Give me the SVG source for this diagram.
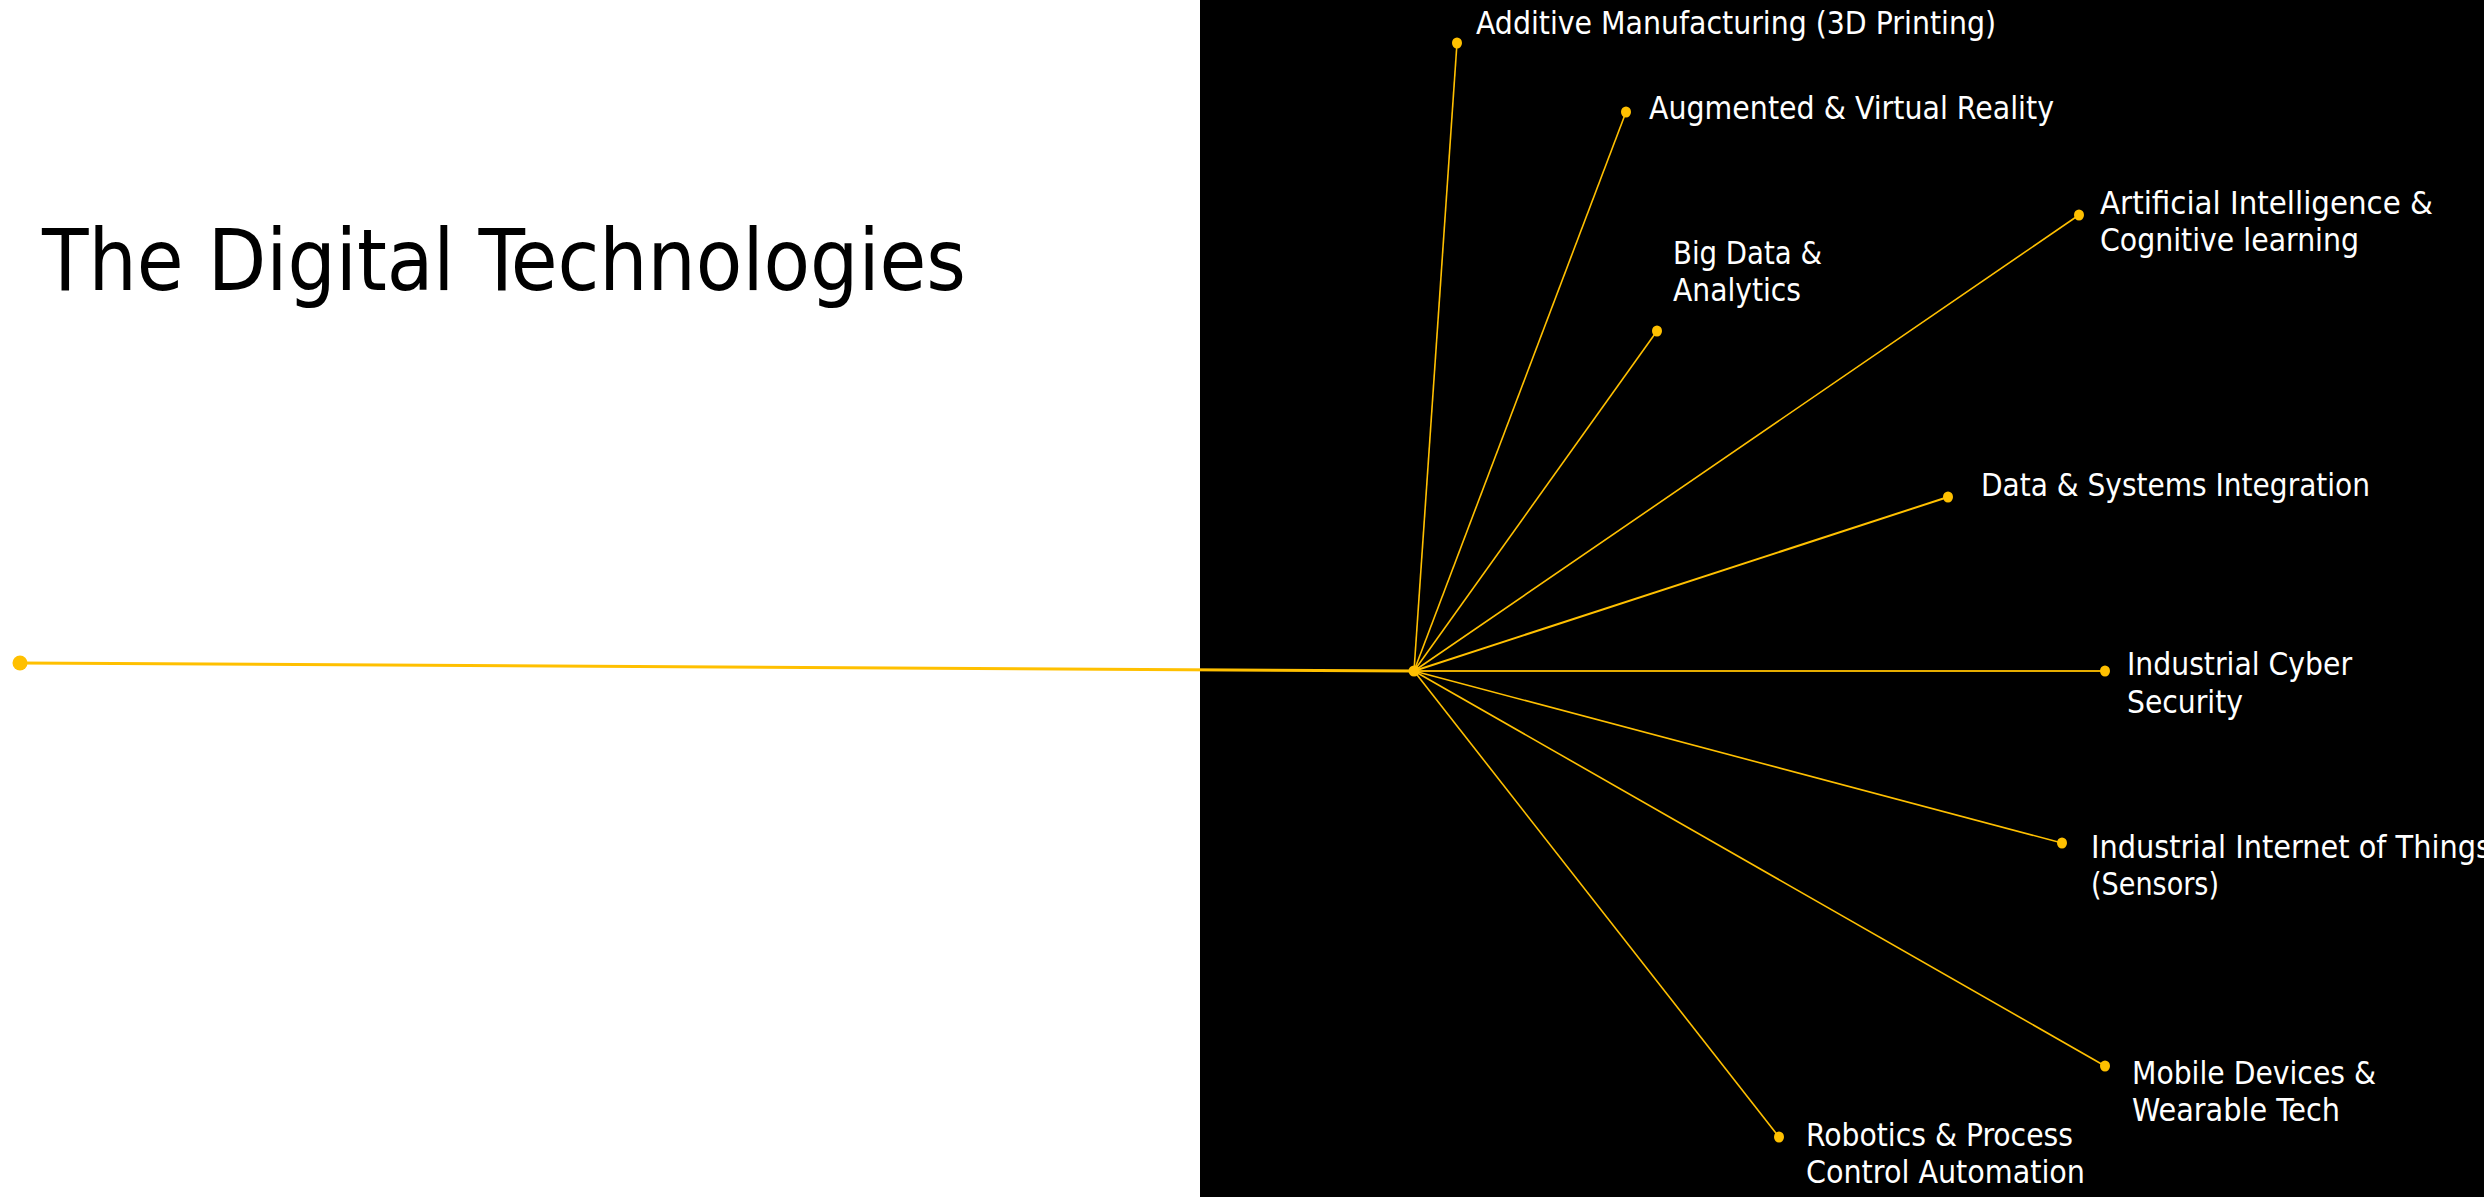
<svg xmlns="http://www.w3.org/2000/svg" width="2484" height="1197" viewBox="0 0 2484 1197">
<style>
.lbl{font-family:"DejaVu Sans Condensed","DejaVu Sans","Liberation Sans",sans-serif;font-size:32px;fill:#FFFFFF}
.title{font-family:"DejaVu Sans Condensed","DejaVu Sans","Liberation Sans",sans-serif;font-size:85px;fill:#000000}
.spoke{stroke:#FFC000;stroke-width:1.6;fill:none}
.dot{fill:#FFC000}
</style>
<rect x="0" y="0" width="2484" height="1197" fill="#FFFFFF"/>
<rect x="1200" y="0" width="1284" height="1197" fill="#000000"/>
<g id="title"><text class="title" x="42" y="290" textLength="924" lengthAdjust="spacingAndGlyphs">The Digital Technologies</text></g>
<g id="connectors">
<line x1="20" y1="663" x2="1414" y2="671" stroke="#FFC000" stroke-width="3"/>
<line class="spoke" x1="1414" y1="671" x2="1457" y2="43"/>
<line class="spoke" x1="1414" y1="671" x2="1626" y2="112"/>
<line class="spoke" x1="1414" y1="671" x2="1657" y2="331"/>
<line class="spoke" x1="1414" y1="671" x2="2079" y2="215"/>
<line class="spoke" x1="1414" y1="671" x2="1948" y2="497" style="stroke-width:2"/>
<line class="spoke" x1="1414" y1="671" x2="2105" y2="671" style="stroke-width:2.2;stroke:#E6AD00"/>
<line class="spoke" x1="1414" y1="671" x2="2062" y2="843"/>
<line class="spoke" x1="1414" y1="671" x2="2105" y2="1066"/>
<line class="spoke" x1="1414" y1="671" x2="1779" y2="1137"/>
</g>
<g id="start"><ellipse class="dot" cx="20" cy="663" rx="7.5" ry="7.5"/></g>
<g id="hub"><ellipse class="dot" cx="1414" cy="671" rx="5.5" ry="5.5"/></g>
<g id="additive"><ellipse class="dot" cx="1457" cy="43" rx="5" ry="5.5"/><text class="lbl" x="1476" y="34" textLength="520" lengthAdjust="spacingAndGlyphs">Additive Manufacturing (3D Printing)</text></g>
<g id="augmented"><ellipse class="dot" cx="1626" cy="112" rx="5" ry="5.5"/><text class="lbl" x="1649" y="119" textLength="405" lengthAdjust="spacingAndGlyphs">Augmented &amp; Virtual Reality</text></g>
<g id="bigdata"><ellipse class="dot" cx="1657" cy="331" rx="5" ry="5.5"/><text class="lbl" x="1673" y="264" textLength="149" lengthAdjust="spacingAndGlyphs">Big Data &amp;</text><text class="lbl" x="1673" y="301" textLength="128" lengthAdjust="spacingAndGlyphs">Analytics</text></g>
<g id="ai"><ellipse class="dot" cx="2079" cy="215" rx="5" ry="5.5"/><text class="lbl" x="2100" y="214" textLength="333" lengthAdjust="spacingAndGlyphs">Artificial Intelligence &amp;</text><text class="lbl" x="2100" y="251" textLength="259" lengthAdjust="spacingAndGlyphs">Cognitive learning</text></g>
<g id="datasys"><ellipse class="dot" cx="1948" cy="497" rx="5" ry="5.5"/><text class="lbl" x="1981" y="496" textLength="389" lengthAdjust="spacingAndGlyphs">Data &amp; Systems Integration</text></g>
<g id="cyber"><ellipse class="dot" cx="2105" cy="671" rx="5" ry="5.5"/><text class="lbl" x="2127" y="675" textLength="225" lengthAdjust="spacingAndGlyphs">Industrial Cyber</text><text class="lbl" x="2127" y="713" textLength="116" lengthAdjust="spacingAndGlyphs">Security</text></g>
<g id="iiot"><ellipse class="dot" cx="2062" cy="843" rx="5" ry="5.5"/><text class="lbl" x="2091" y="858" textLength="400" lengthAdjust="spacingAndGlyphs">Industrial Internet of Things</text><text class="lbl" x="2091" y="895" textLength="128" lengthAdjust="spacingAndGlyphs">(Sensors)</text></g>
<g id="mobile"><ellipse class="dot" cx="2105" cy="1066" rx="5" ry="5.5"/><text class="lbl" x="2132" y="1084" textLength="244" lengthAdjust="spacingAndGlyphs">Mobile Devices &amp;</text><text class="lbl" x="2132" y="1121" textLength="208" lengthAdjust="spacingAndGlyphs">Wearable Tech</text></g>
<g id="robotics"><ellipse class="dot" cx="1779" cy="1137" rx="5" ry="5.5"/><text class="lbl" x="1806" y="1146" textLength="267" lengthAdjust="spacingAndGlyphs">Robotics &amp; Process</text><text class="lbl" x="1806" y="1183" textLength="279" lengthAdjust="spacingAndGlyphs">Control Automation</text></g>
</svg>
